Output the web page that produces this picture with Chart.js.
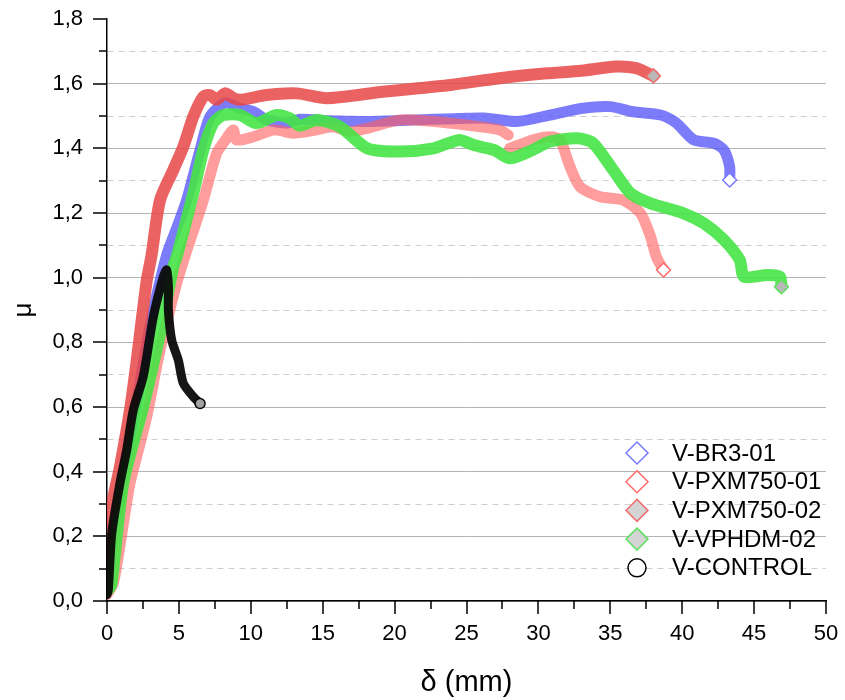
<!DOCTYPE html>
<html>
<head>
<meta charset="utf-8">
<script src="https://cdn.jsdelivr.net/npm/chart.js@4/dist/chart.umd.min.js"></script>
<style>
  html, body { margin: 0; padding: 0; background: #fff; }
  #chart { display: block; }
</style>
</head>
<body>
<canvas id="chart" width="845" height="700"></canvas>
<script>
// readings: delta (mm) and mu
const br301X = [0, 0.2, 1.0, 2.0, 3.0, 4.15, 4.9, 5.54, 6.47, 7.16, 8.2, 9.25, 10.2, 11.1, 12.5, 13.4, 15.5, 18.1, 20.4, 22.7, 24.5, 26.2, 28.5, 30.8, 33.1, 35.0, 36.6, 38.5, 39.6, 40.8, 42.2, 42.9, 43.3, 43.3];
const br301Y = [0.03, 0.12, 0.36, 0.6, 0.85, 1.07, 1.16, 1.24, 1.395, 1.498, 1.54, 1.524, 1.513, 1.488, 1.478, 1.49, 1.485, 1.483, 1.486, 1.49, 1.492, 1.494, 1.483, 1.503, 1.524, 1.529, 1.513, 1.503, 1.478, 1.426, 1.416, 1.395, 1.343, 1.302];

const pxm01X = [0, 0.44, 1.0, 1.6, 2.2, 2.76, 3.69, 4.85, 5.45, 6.7, 7.63, 8.3, 8.78, 9.0, 10.2, 11.6, 12.96, 14.3, 15.7, 16.9, 18.1, 20.4, 22.7, 25.0, 27.3, 27.9, 27.95, 28.0, 29.6, 30.8, 31.5, 32.2, 32.9, 34.3, 35.9, 37.1, 37.8, 38.2, 38.7];
const pxm01Y = [0.02, 0.055, 0.2, 0.364, 0.47, 0.57, 0.776, 0.983, 1.07, 1.24, 1.385, 1.43, 1.457, 1.426, 1.436, 1.457, 1.447, 1.455, 1.467, 1.452, 1.462, 1.488, 1.483, 1.472, 1.457, 1.441, null, 1.4, 1.426, 1.436, 1.426, 1.343, 1.281, 1.25, 1.24, 1.199, 1.127, 1.065, 1.024];

const pxm02X = [0, 0.2, 0.9, 1.6, 2.07, 2.76, 3.1, 3.69, 4.61, 5.31, 6.0, 6.7, 7.16, 7.63, 8.2, 8.77, 9.25, 11.1, 13.2, 15.3, 19.2, 23.9, 27.3, 30.6, 33.0, 35.4, 36.8, 38.0];
const pxm02Y = [0.03, 0.26, 0.415, 0.591, 0.745, 0.99, 1.07, 1.24, 1.333, 1.405, 1.498, 1.56, 1.565, 1.55, 1.57, 1.556, 1.55, 1.565, 1.57, 1.555, 1.575, 1.596, 1.617, 1.632, 1.64, 1.653, 1.648, 1.624];

const vphdmX = [0, 0.3, 1.13, 2.52, 3.69, 4.61, 4.85, 6.0, 6.7, 7.39, 8.09, 9.25, 10.4, 11.8, 12.7, 13.4, 14.6, 16.2, 18.1, 20.4, 22.7, 24.5, 25.5, 26.9, 28.0, 29.6, 30.8, 32.7, 33.8, 35.2, 36.4, 37.8, 40.1, 41.5, 42.9, 44.0, 44.3, 45.9, 46.8, 46.9];
const vphdmY = [0.03, 0.05, 0.364, 0.601, 0.828, 1.034, 1.065, 1.261, 1.395, 1.478, 1.503, 1.503, 1.478, 1.503, 1.493, 1.47, 1.488, 1.467, 1.4, 1.39, 1.4, 1.426, 1.41, 1.395, 1.369, 1.395, 1.421, 1.431, 1.416, 1.333, 1.261, 1.23, 1.199, 1.168, 1.117, 1.055, 1.003, 1.008, 1.003, 0.972];

const controlX = [0, 0.09, 0.33, 0.9, 1.37, 1.83, 2.52, 3.22, 3.92, 4.15, 4.27, 4.27, 4.5, 4.96, 5.31, 6.0, 6.47];
const controlY = [0.02, 0.034, 0.209, 0.364, 0.467, 0.591, 0.694, 0.879, 1.003, 1.024, 0.972, 0.9, 0.807, 0.745, 0.673, 0.632, 0.611];

const seriesNames = ["V-BR3-01", "V-PXM750-01", "V-PXM750-02", "V-VPHDM-02", "V-CONTROL"];

const FONT = "'Liberation Sans', Arial, sans-serif";

function toPoints(xs, ys) {
    return xs.map((x, i) => ({ x: x, y: ys[i] }));
}

function lastOnly(r) {
    return ctx => ctx.dataIndex === ctx.dataset.data.length - 1 ? r : 0;
}

function band(label, xs, ys, color, width, marker, order) {
    return {
        label: label,
        data: toPoints(xs, ys),
        showLine: true,
        borderColor: color,
        borderWidth: width,
        borderCapStyle: "round",
        borderJoinStyle: "round",
        tension: 0.25,
        spanGaps: false,
        pointStyle: marker.style,
        pointRadius: lastOnly(marker.r),
        pointBorderColor: marker.stroke,
        pointBackgroundColor: marker.fill,
        pointBorderWidth: 1.5,
        legendMarker: marker,
        order: order
    };
}

const datasets = [
    band(seriesNames[0], br301X, br301Y, "rgba(80,80,250,0.75)", 11,
        { style: "rectRot", r: 7, stroke: "#7a7aff", fill: "#ffffff" }, 4),
    band(seriesNames[1], pxm01X, pxm01Y, "rgba(255,95,95,0.62)", 11,
        { style: "rectRot", r: 7, stroke: "#ff6a6a", fill: "#ffffff" }, 3),
    band(seriesNames[2], pxm02X, pxm02Y, "rgba(232,70,70,0.85)", 12,
        { style: "rectRot", r: 7, stroke: "#f07070", fill: "#b8b8b8" }, 2),
    band(seriesNames[3], vphdmX, vphdmY, "rgba(70,228,70,0.9)", 12,
        { style: "rectRot", r: 7, stroke: "#60e060", fill: "#b8b8b8" }, 1),
    band(seriesNames[4], controlX, controlY, "rgba(10,10,10,0.95)", 9,
        { style: "circle", r: 5, stroke: "#000000", fill: "rgba(255,255,255,0.6)" }, 0)
];

// fills of the legend symbols (open or grey-filled)
const legendFills = ["#ffffff", "#ffffff", "#d4d4d4", "#d4d4d4", "#ffffff"];

const axisTicks = {
    id: "axisTicks",
    afterDraw(chart) {
        const { ctx, scales: { x, y } } = chart;
        ctx.save();
        ctx.strokeStyle = "#000";
        ctx.lineWidth = 1.5;
        ctx.beginPath();
        for (let i = 0; i <= 20; i++) {
            const px = Math.round(x.getPixelForValue(i * 2.5));
            const len = i % 2 === 0 ? 13 : 8;
            ctx.moveTo(px, y.bottom);
            ctx.lineTo(px, y.bottom + len);
        }
        for (let i = 0; i <= 18; i++) {
            const py = Math.round(y.getPixelForValue(i / 10));
            const len = i % 2 === 0 ? 14 : 8;
            ctx.moveTo(x.left, py);
            ctx.lineTo(x.left - len, py);
        }
        ctx.stroke();
        ctx.restore();
    }
};

const boxLegend = {
    id: "boxLegend",
    afterDraw(chart) {
        const { ctx, chartArea } = chart;
        const mx = chartArea.right - 189;
        const tx = mx + 35;
        let ty = chartArea.bottom - 148;
        ctx.save();
        ctx.font = "24px " + FONT;
        ctx.textBaseline = "middle";
        chart.data.datasets.forEach((ds, i) => {
            const m = ds.legendMarker;
            ctx.beginPath();
            if (m.style === "circle") {
                ctx.arc(mx, ty, 9, 0, Math.PI * 2);
            } else {
                ctx.moveTo(mx, ty - 11);
                ctx.lineTo(mx + 11, ty);
                ctx.lineTo(mx, ty + 11);
                ctx.lineTo(mx - 11, ty);
                ctx.closePath();
            }
            ctx.fillStyle = legendFills[i];
            ctx.fill();
            ctx.lineWidth = 1.5;
            ctx.strokeStyle = m.stroke;
            ctx.stroke();
            ctx.fillStyle = "#000";
            ctx.fillText(ds.label, tx, ty + 1);
            ty += 28.7;
        });
        ctx.restore();
    }
};

const isMajor = v => Math.round(v * 10) % 2 === 0;

new Chart(document.getElementById("chart"), {
    type: "scatter",
    data: { datasets: datasets },
    options: {
        responsive: false,
        animation: false,
        events: [],
        layout: { padding: { left: 0, right: 19, top: 19, bottom: 0 } },
        plugins: {
            legend: { display: false },
            tooltip: { enabled: false }
        },
        scales: {
            x: {
                type: "linear",
                min: 0,
                max: 50,
                ticks: {
                    stepSize: 5,
                    color: "#000",
                    padding: 20,
                    maxRotation: 0,
                    font: { size: 22, family: FONT }
                },
                grid: { display: false, drawTicks: false },
                border: { display: true, color: "#000", width: 1.5 },
                title: {
                    display: true,
                    text: "δ (mm)",
                    color: "#000",
                    font: { size: 29, family: FONT },
                    padding: { top: 0, bottom: 0 }
                },
                afterFit(scale) {
                    scale.height = 99;
                    scale.paddingLeft = 0;
                    scale.paddingRight = 0;
                }
            },
            y: {
                type: "linear",
                min: 0,
                max: 1.8,
                ticks: {
                    stepSize: 0.1,
                    autoSkip: false,
                    color: "#000",
                    padding: 24,
                    font: { size: 22, family: FONT },
                    callback: v => isMajor(v) ? v.toFixed(1).replace(".", ",") : ""
                },
                grid: {
                    drawTicks: false,
                    lineWidth: 1,
                    color: ctx => {
                        const v = ctx.tick ? ctx.tick.value : 0;
                        if (v > 1.75) return "rgba(0,0,0,0)";
                        return isMajor(v) ? "#b4b4b4" : "#cdcdcd";
                    }
                },
                border: {
                    display: true,
                    color: "#000",
                    width: 1.5,
                    dash: ctx => (ctx.tick && !isMajor(ctx.tick.value)) ? [6, 5] : []
                },
                title: {
                    display: true,
                    text: "μ",
                    color: "#000",
                    font: { size: 26, family: FONT },
                    padding: { top: 8, bottom: 0 }
                },
                afterFit(scale) {
                    scale.width = 107;
                    scale.paddingTop = 0;
                    scale.paddingBottom = 0;
                }
            }
        }
    },
    plugins: [axisTicks, boxLegend]
});
</script>
</body>
</html>
